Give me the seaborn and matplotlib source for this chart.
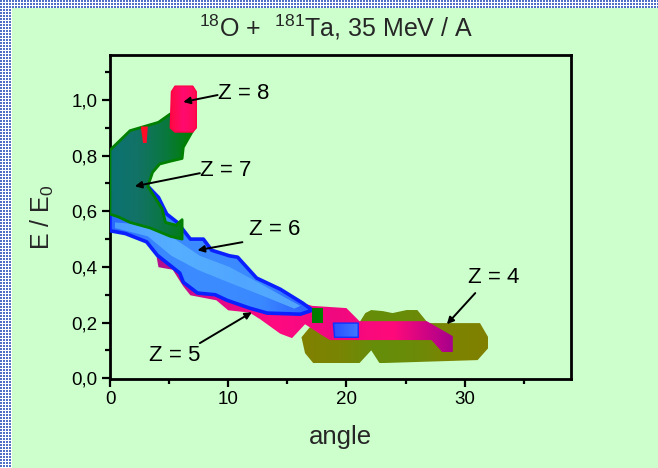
import numpy as np
import pandas as pd
import matplotlib
matplotlib.use("Agg")
import matplotlib.pyplot as plt
import seaborn as sns
from matplotlib.patches import Polygon
from matplotlib.colors import LinearSegmentedColormap

# ---------------- data (angle in deg, E/E0) ----------------
z4_angle = [16.2, 16.9, 21.1, 21.6, 22.1, 23.1, 23.9, 25.1, 26.0, 26.9, 31.3, 32.0, 32.0, 31.1, 22.8, 22.1, 21.1, 17.2, 16.5]
z4_energy = [0.147, 0.183, 0.200, 0.234, 0.245, 0.241, 0.234, 0.245, 0.245, 0.198, 0.198, 0.147, 0.108, 0.065, 0.054, 0.100, 0.054, 0.054, 0.090]

z5_angle = [3.9, 5.5, 7.6, 10.1, 12.4, 14.4, 16.3, 17.1, 20.0, 21.1, 26.8, 29.0, 29.0,
            28.1, 27.2, 18.6, 17.8, 16.5, 15.4, 14.4, 12.7, 11.8, 10.0, 9.0, 6.8, 6.2, 5.3, 4.1]
z5_energy = [0.446, 0.440, 0.417, 0.390, 0.345, 0.310, 0.270, 0.260, 0.252, 0.205, 0.205, 0.151, 0.094,
             0.094, 0.137, 0.137, 0.158, 0.194, 0.144, 0.160, 0.212, 0.236, 0.244, 0.280, 0.298, 0.330, 0.390, 0.399]

z6_angle = [0.0, 3.2, 4.1, 4.8, 5.7, 6.8, 7.9, 8.6, 10.1, 10.8, 12.4, 14.4, 16.3, 17.1,
            16.9, 16.1, 13.3, 11.8, 9.9, 8.9, 7.4, 6.2, 5.9, 4.0, 3.1, 1.3, 0.0]
z6_energy = [0.600, 0.690, 0.650, 0.590, 0.560, 0.500, 0.500, 0.460, 0.440, 0.435, 0.360, 0.320, 0.270, 0.245,
             0.241, 0.230, 0.234, 0.252, 0.280, 0.300, 0.306, 0.345, 0.378, 0.442, 0.490, 0.520, 0.530]
z6_core_angle = [0.4, 3.4, 5.5, 7.6, 10.1, 12.7, 14.8, 16.1, 15.6, 12.7, 10.0, 7.4, 5.2, 3.2, 0.4]
z6_core_energy = [0.560, 0.550, 0.500, 0.440, 0.400, 0.340, 0.290, 0.260, 0.250, 0.300, 0.345, 0.390, 0.440, 0.510, 0.540]
z6b_angle = [18.9, 21.0, 21.0, 19.0]
z6b_energy = [0.198, 0.198, 0.147, 0.147]

z7_angle = [0.0, 1.7, 2.5, 4.1, 5.1, 7.0, 6.6, 6.2, 6.1, 5.1, 4.2, 3.6, 3.2, 3.8, 4.4, 4.7, 5.6, 6.1,
            6.1, 5.1, 3.4, 1.7, 0.7, 0.0]
z7_energy = [0.820, 0.890, 0.900, 0.920, 0.950, 0.890, 0.860, 0.830, 0.790, 0.780, 0.770, 0.740, 0.690,
             0.650, 0.610, 0.560, 0.550, 0.570, 0.500, 0.510, 0.540, 0.560, 0.580, 0.590]
z7b_angle = [17.1, 18.0, 18.0, 17.1]
z7b_energy = [0.252, 0.252, 0.198, 0.198]

z8_angle = [5.2, 5.5, 7.0, 7.3, 7.3, 7.0, 5.5, 5.1]
z8_energy = [1.030, 1.050, 1.050, 1.030, 0.900, 0.885, 0.885, 0.900]
z8b_angle = [2.6, 3.2, 3.1, 2.8]
z8b_energy = [0.905, 0.905, 0.845, 0.845]

labels = ["Z = 8", "Z = 7", "Z = 6", "Z = 5", "Z = 4"]
label_angle = [9.1, 7.6, 11.8, 3.3, 30.3]
label_energy = [1.025, 0.748, 0.536, 0.083, 0.363]
arrow_from_angle = [9.1, 7.6, 11.2, 7.6, 30.9]
arrow_from_energy = [1.018, 0.737, 0.489, 0.126, 0.306]
arrow_to_angle = [6.2, 2.1, 7.4, 12.0, 28.5]
arrow_to_energy = [0.993, 0.690, 0.460, 0.237, 0.194]

xticks = [0, 10, 20, 30]
yticks = [0.0, 0.2, 0.4, 0.6, 0.8, 1.0]
ytick_labels = ["0,0", "0,2", "0,4", "0,6", "0,8", "1,0"]

# ---------------- style ----------------
sns.set_theme(style="ticks")
plt.rcParams["font.family"] = ["Liberation Sans", "DejaVu Sans"]
plt.rcParams["mathtext.fontset"] = "custom"
plt.rcParams["mathtext.rm"] = "Liberation Sans"
plt.rcParams["mathtext.it"] = "Liberation Sans"

BG = "#ccffcc"
W, H = 658, 468
fig = plt.figure(figsize=(W / 100, H / 100), dpi=100, facecolor=BG)

# decorative dotted frame (left and top strips)
bg = np.ones((H, W, 3)) * np.array([0xcc, 0xff, 0xcc]) / 255
blue = np.array([0x50, 0x70, 0xc8]) / 255
white = np.array([1.0, 1.0, 1.0])
ii, jj = np.mgrid[0:H, 0:W]
strip = (jj < 12) | (ii < 8)
dot = (ii % 3 != 2) & (jj % 3 != 2)
bg[strip & dot] = blue
bg[strip & ~dot] = white
bax = fig.add_axes([0, 0, 1, 1], zorder=-5)
bax.imshow(bg, aspect="auto", interpolation="nearest")
bax.axis("off")

ax = fig.add_axes([110 / W, (H - 379) / H, (571 - 110) / W, (379 - 55) / H])
ax.set_facecolor(BG)


def grad_fill(xs, ys, colors, z, axis="x", edge="none", lw=0.0, alpha=1.0):
    poly = Polygon(np.column_stack([xs, ys]), closed=True, facecolor="none",
                   edgecolor=edge, lw=lw, zorder=z + 0.05, joinstyle="round")
    ax.add_patch(poly)
    clip = Polygon(np.column_stack([xs, ys]), closed=True, facecolor="none", edgecolor="none")
    ax.add_patch(clip)
    cmap = LinearSegmentedColormap.from_list("g", colors)
    g = np.linspace(0, 1, 256)
    img = g[None, :] if axis == "x" else g[:, None]
    im = ax.imshow(img, cmap=cmap, extent=[min(xs), max(xs), min(ys), max(ys)],
                   origin="lower", aspect="auto", zorder=z, interpolation="bilinear",
                   alpha=alpha)
    im.set_clip_path(clip)


# Z = 4 (olive)
grad_fill(z4_angle, z4_energy, ["#808000", "#7a8504", "#658e0a", "#6a8b08", "#7c8402", "#808000"], 1)
# Z = 5 (magenta)
grad_fill(z5_angle, z5_energy, ["#b0108e", "#e0088a", "#ff0a80", "#f00880", "#ff0a7a", "#a8008c"], 2)
# Z = 6 (blue)
grad_fill(z6_angle, z6_energy, ["#2a68ff", "#3a88ff", "#3c8cff", "#3a88ff", "#2a60ff"], 3,
          edge="#0a20ff", lw=2.6)
grad_fill(z6_core_angle, z6_core_energy, ["#58b0ff", "#60bcff", "#58b0ff", "#60baff"], 3.02,
          alpha=0.75)
grad_fill(z6b_angle, z6b_energy, ["#2850ff", "#3f78ff"], 3, edge="#1030ff", lw=1.0)
# Z = 7 (green)
grad_fill(z7_angle, z7_energy, ["#0b7272", "#127266", "#0a7840", "#008000"], 4,
          edge="#008000", lw=2.0)
grad_fill(z7b_angle, z7b_energy, ["#007a00", "#008000"], 4)
# Z = 8 (red)
grad_fill(z8_angle, z8_energy, ["#ff0a40", "#ff0a70", "#ff0a50"], 5, edge="#ff0048", lw=1.0)
grad_fill(z8b_angle, z8b_energy, ["#ff1020", "#ff0830"], 5)

# labels and arrows
for lab, tx, ty, fx, fy, tox, toy in zip(labels, label_angle, label_energy,
                                         arrow_from_angle, arrow_from_energy,
                                         arrow_to_angle, arrow_to_energy):
    ax.text(tx, ty, lab, fontsize=16, ha="left", va="center", color="black", zorder=10)
    ax.annotate("", xy=(tox, toy), xytext=(fx, fy),
                arrowprops=dict(arrowstyle="-|>", color="black", lw=1.4,
                                mutation_scale=10, shrinkA=0, shrinkB=0),
                zorder=10)

ax.set_xlim(0, 39)
ax.set_ylim(-0.003, 1.162)
ax.set_xticks(xticks)
ax.set_xticks([5, 15, 25, 35], minor=True)
ax.set_yticks(yticks)
ax.set_yticklabels(ytick_labels)
ax.set_yticks([0.1, 0.3, 0.5, 0.7, 0.9, 1.1], minor=True)
ax.tick_params(axis="both", which="major", direction="out", length=6, width=1.6,
               labelsize=13.5, colors="black", pad=3)
ax.tick_params(axis="both", which="minor", direction="out", length=3.5, width=1.6, colors="black")
for s in ax.spines.values():
    s.set_visible(True)
    s.set_color("black")
    s.set_linewidth(2.0)

ax.set_xlabel("angle", fontsize=18.5, labelpad=12)
ax.set_ylabel("E / E$_0$", fontsize=18, labelpad=11)
fig.text(336 / W, 1 - 27 / H, "$^{18}$O +  $^{181}$Ta, 35 MeV / A", fontsize=18,
         ha="center", va="center")

fig.savefig("out.png", dpi=100, facecolor=BG)
